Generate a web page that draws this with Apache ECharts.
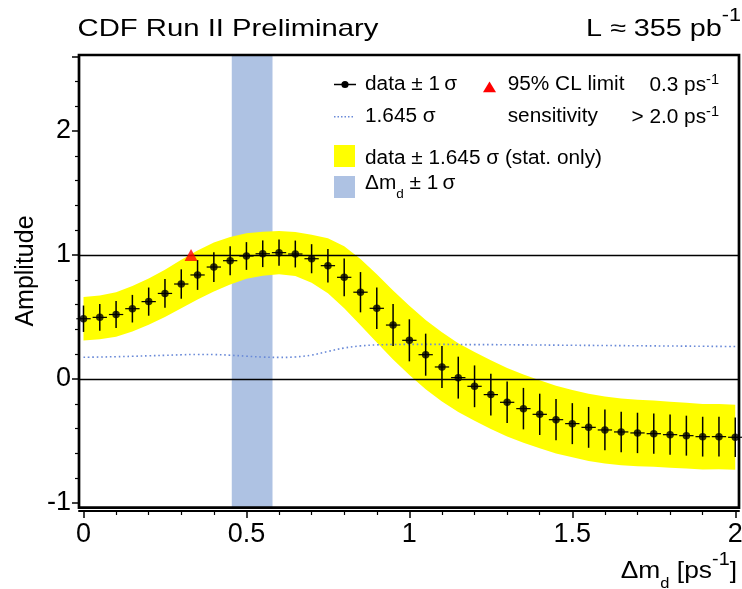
<!DOCTYPE html>
<html>
<head>
<meta charset="utf-8">
<title>CDF amplitude scan</title>
<script src="https://cdn.jsdelivr.net/npm/echarts@6.0.0/dist/echarts.min.js"></script>
<style>
  html, body { margin: 0; padding: 0; background: #fff; }
  #chart { width: 742px; height: 589px; }
</style>
</head>
<body>
<div id="chart"></div>
<script>
// scan points, delta m_d in ps^-1
const dmValues = [0, 0.05, 0.1, 0.15, 0.2, 0.25, 0.3, 0.35, 0.4, 0.45,
  0.5, 0.55, 0.6, 0.65, 0.7, 0.75, 0.8, 0.85, 0.9, 0.95,
  1.0, 1.05, 1.1, 1.15, 1.2, 1.25, 1.3, 1.35, 1.4, 1.45,
  1.5, 1.55, 1.6, 1.65, 1.7, 1.75, 1.8, 1.85, 1.9, 1.95, 2.0];
// fitted amplitude
const amplitude = [0.486, 0.497, 0.520, 0.567, 0.624, 0.690, 0.766, 0.839, 0.903, 0.954,
  0.992, 1.010, 1.019, 1.008, 0.970, 0.914, 0.820, 0.700, 0.570, 0.435,
  0.312, 0.196, 0.097, 0.011, -0.059, -0.126, -0.188, -0.239, -0.285, -0.328,
  -0.360, -0.390, -0.411, -0.427, -0.435, -0.441, -0.449, -0.457, -0.465, -0.465, -0.470];
// 1.645 sigma (the dotted sensitivity curve)
const sensitivity = [0.175, 0.177, 0.180, 0.183, 0.187, 0.191, 0.195, 0.198, 0.197, 0.192,
  0.184, 0.177, 0.174, 0.178, 0.193, 0.222, 0.250, 0.267, 0.275, 0.278,
  0.279, 0.279, 0.279, 0.278, 0.277, 0.277, 0.276, 0.275, 0.274, 0.273,
  0.272, 0.271, 0.270, 0.269, 0.268, 0.267, 0.266, 0.265, 0.264, 0.263, 0.262];
const dmdBand = [0.455, 0.58];   // delta m_d +- 1 sigma
const clLimit = [0.33, 1.0];     // 95% CL limit marker
const refLines = [0, 1];
const xTicks = [0, 0.5, 1, 1.5, 2];
const yTicks = [-1, 0, 1, 2];
const yTop = 2.6;
// value range covered by the frame
const xRange = [-0.0138, 2.0115];
const yRange = [-1.038, 2.613];

const FONT = '"Liberation Sans", Arial, Helvetica, sans-serif';
const frame = { left: 79, right: 3, top: 55, bottom: 81.3 };
const W = 742 - frame.left - frame.right;
const H = 589 - frame.top - frame.bottom;
// only used to line the tick grid up with the frame grid
const pxX = v => frame.left + (v - xRange[0]) / (xRange[1] - xRange[0]) * W;
const pxY = v => frame.top + (yRange[1] - v) / (yRange[1] - yRange[0]) * H;
const tickGrid = {
  left: pxX(xTicks[0]),
  right: 742 - pxX(xTicks[xTicks.length - 1]),
  top: pxY(yTop),
  bottom: 589 - pxY(yTicks[0])
};

const points = dmValues.map((x, i) => [x, amplitude[i], sensitivity[i] / 1.645]);

function txt(x, y, text, size, align, scaleX, rich) {
  return {
    type: 'text', x: x, y: y, scaleX: scaleX || 1, z: 20,
    style: {
      text: text, fontSize: size, fontFamily: FONT, fill: '#000',
      align: align, textAlign: align, verticalAlign: 'middle', textVerticalAlign: 'middle',
      rich: rich
    }
  };
}
function sup(size, lh) {
  return { fontSize: size, fontFamily: FONT, lineHeight: lh, verticalAlign: 'top', fill: '#000' };
}
function sub(size, lh) {
  return { fontSize: size, fontFamily: FONT, lineHeight: lh, verticalAlign: 'bottom', fill: '#000' };
}
function main(size, lh) {
  return { fontSize: size, fontFamily: FONT, lineHeight: lh, fill: '#000' };
}

const chart = echarts.init(document.getElementById('chart'), null, { renderer: 'canvas' });

const axisLabelStyle = { color: '#000', fontSize: 27, fontFamily: FONT };

const option = {
  animation: false,
  backgroundColor: '#fff',
  textStyle: { fontFamily: FONT },
  grid: [
    {
      left: frame.left, right: frame.right, top: frame.top, bottom: frame.bottom,
      show: true, borderColor: '#000', borderWidth: 2.7, backgroundColor: 'transparent',
      z: 10, containLabel: false, outerBoundsMode: 'none'
    },
    Object.assign({ show: false, containLabel: false, outerBoundsMode: 'none' }, tickGrid)
  ],
  xAxis: [
    {
      gridIndex: 0, type: 'value', min: xRange[0], max: xRange[1], offset: 3.3,
      axisLine: { show: true, onZero: false, lineStyle: { color: '#000', width: 2 } },
      axisTick: { show: false }, axisLabel: { show: false }, splitLine: { show: false }
    },
    {
      gridIndex: 1, type: 'value', min: xTicks[0], max: xTicks[xTicks.length - 1],
      interval: xTicks[1] - xTicks[0], offset: 511 - pxY(yTicks[0]),
      axisLine: { show: false, onZero: false },
      axisTick: { show: true, length: 7, lineStyle: { color: '#000', width: 1.5 } },
      minorTick: { show: true, splitNumber: 5, length: 4, lineStyle: { color: '#000', width: 1.2 } },
      axisLabel: Object.assign({ margin: 10 }, axisLabelStyle),
      splitLine: { show: false }
    }
  ],
  yAxis: [
    {
      gridIndex: 0, type: 'value', min: yRange[0], max: yRange[1], show: false,
      axisLine: { onZero: false }, splitLine: { show: false }
    },
    {
      gridIndex: 1, type: 'value', min: yTicks[0], max: yTop,
      interval: yTicks[1] - yTicks[0], offset: pxX(xTicks[0]) - frame.left,
      axisLine: { show: false, onZero: false },
      axisTick: { show: true, length: 7, lineStyle: { color: '#000', width: 1.5 } },
      minorTick: { show: true, splitNumber: 5, length: 4, lineStyle: { color: '#000', width: 1.2 } },
      axisLabel: Object.assign({ margin: 8, showMaxLabel: false }, axisLabelStyle),
      splitLine: { show: false }
    }
  ],
  series: [
    {
      // delta m_d band
      type: 'custom', xAxisIndex: 0, yAxisIndex: 0, z: 1, silent: true,
      data: [[dmdBand[0], dmdBand[1]]],
      renderItem: (params, api) => {
        const a = api.coord([api.value(0), yRange[1]]);
        const b = api.coord([api.value(1), yRange[0]]);
        return {
          type: 'rect',
          shape: { x: a[0], y: a[1], width: b[0] - a[0], height: b[1] - a[1] },
          style: { fill: '#aec2e3' }
        };
      }
    },
    {
      // data +- 1.645 sigma
      type: 'custom', xAxisIndex: 0, yAxisIndex: 0, z: 2, silent: true,
      data: [[dmValues[0], amplitude[0]]],
      renderItem: (params, api) => {
        const upper = dmValues.map((x, i) => api.coord([x, amplitude[i] + sensitivity[i]]));
        const lower = dmValues.map((x, i) => api.coord([x, amplitude[i] - sensitivity[i]])).reverse();
        return { type: 'polygon', shape: { points: upper.concat(lower) }, style: { fill: '#ffff00' } };
      }
    },
    {
      // 1.645 sigma sensitivity, plus the lines at 0 and 1
      type: 'line', xAxisIndex: 0, yAxisIndex: 0, z: 3, silent: true,
      data: dmValues.map((x, i) => [x, sensitivity[i]]),
      smooth: 0.4, showSymbol: false, symbol: 'none',
      lineStyle: { color: '#6a8ad8', width: 1.6, type: [1.6, 2.8] },
      markLine: {
        silent: true, symbol: 'none', label: { show: false },
        lineStyle: { color: '#000', width: 1.3, type: 'solid' },
        data: refLines.map(v => ({ yAxis: v }))
      }
    },
    {
      // error bars
      type: 'custom', xAxisIndex: 0, yAxisIndex: 0, z: 5, silent: true,
      data: points, encode: { x: 0, y: 1 },
      renderItem: (params, api) => {
        const x = api.value(0), y = api.value(1), s = api.value(2);
        const t = api.coord([x, y + s]);
        const b = api.coord([x, y - s]);
        const l = api.coord([x - 0.022, y]);
        const r = api.coord([x + 0.022, y]);
        return {
          type: 'group',
          children: [
            { type: 'line', shape: { x1: t[0], y1: t[1], x2: b[0], y2: b[1] }, style: { stroke: '#000', lineWidth: 1.5 } },
            { type: 'line', shape: { x1: l[0], y1: l[1], x2: r[0], y2: r[1] }, style: { stroke: '#000', lineWidth: 1.2 } }
          ]
        };
      }
    },
    {
      type: 'scatter', xAxisIndex: 0, yAxisIndex: 0, z: 6, silent: true,
      data: points, encode: { x: 0, y: 1 },
      symbol: 'circle', symbolSize: 7.5,
      itemStyle: { color: '#000' }
    },
    {
      type: 'scatter', xAxisIndex: 0, yAxisIndex: 0, z: 7, silent: true,
      data: [clLimit],
      symbol: 'triangle', symbolSize: [13, 12],
      itemStyle: { color: '#ff0000' }
    }
  ],
  graphic: {
    elements: [
      txt(77.5, 29.5, 'CDF Run II Preliminary', 24, 'left', 1.22),
      txt(741, 29, '{m|L ≈ 355 pb}{s|-1}', 24, 'right', 1.2,
        { m: main(24, 44), s: sup(18, 12.6) }),
      Object.assign(txt(26.3, 271, 'Amplitude', 25, 'center', 1), { rotation: Math.PI / 2 }),
      txt(737, 571, '{m|Δm}{d|d}{m| [ps}{s|-1}{m|]}', 24, 'right', 1.1,
        { m: main(24, 40), d: sub(15, 20.6), s: sup(18, 18) }),

      // legend
      { type: 'line', z: 20, shape: { x1: 334, y1: 84.5, x2: 356, y2: 84.5 }, style: { stroke: '#000', lineWidth: 1.5 } },
      { type: 'circle', z: 20, shape: { cx: 345, cy: 84.5, r: 3.6 }, style: { fill: '#000' } },
      txt(365, 84.5, 'data ± 1\u2009σ', 20, 'left', 1.04),
      { type: 'polygon', z: 20, shape: { points: [[483, 92.3], [496, 92.3], [489.5, 81.5]] }, style: { fill: '#ff0000' } },
      txt(507.7, 84.5, '95% CL limit', 20, 'left', 1.04),
      txt(719, 85, '{m|0.3 ps}{s|-1}', 20, 'right', 1.04, { m: main(20, 24), s: sup(14, 15) }),

      { type: 'line', z: 20, shape: { x1: 334, y1: 116.7, x2: 353, y2: 116.7 }, style: { stroke: '#6a8ad8', lineWidth: 1.5, lineDash: [1.5, 2] } },
      txt(365, 116.7, '1.645 σ', 20, 'left', 1.04),
      txt(507.7, 116.7, 'sensitivity', 20, 'left', 1.04),
      txt(719, 117, '{m|> 2.0 ps}{s|-1}', 20, 'right', 1.04, { m: main(20, 24), s: sup(14, 15) }),

      { type: 'rect', z: 20, shape: { x: 334, y: 145, width: 21, height: 22 }, style: { fill: '#ffff00' } },
      txt(365, 158, 'data ± 1.645 σ (stat. only)', 20, 'left', 1.04),

      { type: 'rect', z: 20, shape: { x: 334, y: 176, width: 21, height: 22 }, style: { fill: '#aec2e3' } },
      txt(365, 183.3, '{m|Δm}{d|d}{m| ± 1\u2009σ}', 20, 'left', 1.04, { m: main(20, 36), d: sub(13, 16) })
    ]
  }
};

chart.setOption(option);
</script>
</body>
</html>
